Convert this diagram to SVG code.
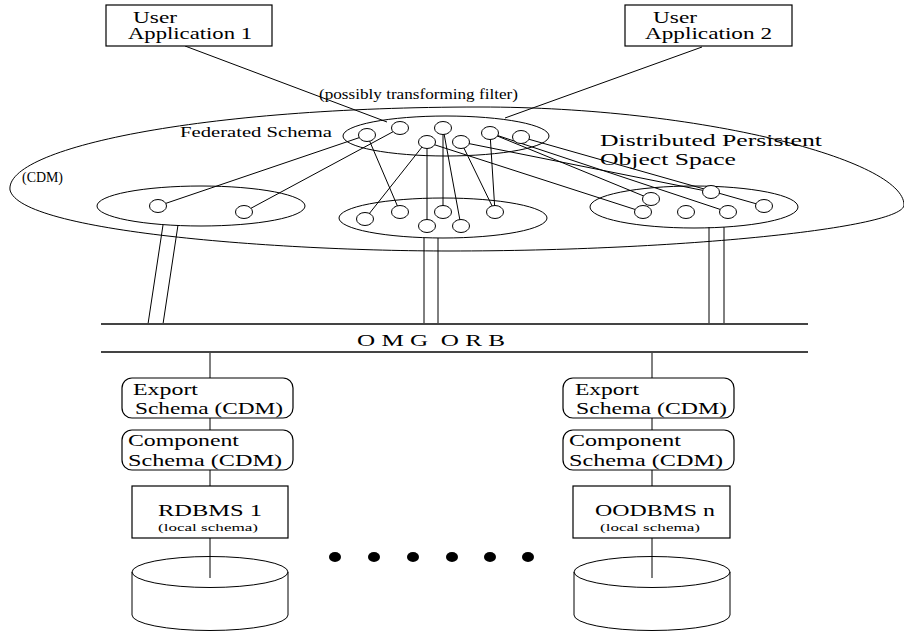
<svg xmlns="http://www.w3.org/2000/svg" width="904" height="634" viewBox="0 0 904 634">
<style>
.t{font-family:"Liberation Serif","DejaVu Serif","Times New Roman",serif;fill:#000}
.ln{stroke:#000;stroke-width:1;fill:none}
.obj{stroke:#000;stroke-width:1;fill:#fff}
.sch{stroke:#000;stroke-width:1;fill:none}
.box{stroke:#000;stroke-width:1.2;fill:#fff}
.orb{stroke:#444;stroke-width:2;fill:none}
</style>
<rect width="904" height="634" fill="#fff"/>

<g id="object-space">
<path class="sch" d="M10,190 C5,148 200,107 480,107 C700,107 904,160 904,205 C904,228 680,251 450,251 C280,251 20,232 10,190 Z"/>
<text class="t" x="22" y="182" font-size="15" textLength="41" lengthAdjust="spacingAndGlyphs">(CDM)</text>
<text class="t" x="600" y="146" font-size="16.5" textLength="222" lengthAdjust="spacingAndGlyphs">Distributed Persistent</text>
<text class="t" x="600" y="165" font-size="16.5" textLength="136" lengthAdjust="spacingAndGlyphs">Object Space</text>
<text class="t" x="319" y="99" font-size="14" textLength="199" lengthAdjust="spacingAndGlyphs">(possibly transforming filter)</text>
</g>

<g id="federated-schema">
<ellipse class="sch" cx="446" cy="136" rx="103" ry="20"/>
<text class="t" x="180" y="137" font-size="15" textLength="152" lengthAdjust="spacingAndGlyphs">Federated Schema</text>
</g>
<g id="left-schema"><ellipse class="sch" cx="201" cy="206" rx="104" ry="20"/></g>
<g id="middle-schema"><ellipse class="sch" cx="443" cy="218" rx="104" ry="20"/></g>
<g id="right-schema"><ellipse class="sch" cx="694" cy="207" rx="104" ry="21"/></g>

<g id="connectors">
<line class="ln" x1="185" y1="46" x2="387" y2="122"/>
<line class="ln" x1="702" y1="47" x2="505" y2="118"/>
<line class="ln" x1="367" y1="135" x2="158" y2="206"/>
<line class="ln" x1="400" y1="128" x2="244" y2="212"/>
<line class="ln" x1="367" y1="135" x2="400" y2="212"/>
<line class="ln" x1="426" y1="142" x2="365" y2="219"/>
<line class="ln" x1="427" y1="142" x2="427" y2="226"/>
<line class="ln" x1="443" y1="128" x2="443" y2="212"/>
<line class="ln" x1="443" y1="128" x2="461" y2="226"/>
<line class="ln" x1="461" y1="142" x2="495" y2="212"/>
<line class="ln" x1="490" y1="133" x2="495" y2="212"/>
<line class="ln" x1="426" y1="142" x2="643" y2="212"/>
<line class="ln" x1="461" y1="142" x2="711" y2="192"/>
<line class="ln" x1="490" y1="133" x2="651" y2="199"/>
<line class="ln" x1="490" y1="133" x2="728" y2="212"/>
<line class="ln" x1="521" y1="137" x2="764" y2="206"/>
<line class="ln" x1="163" y1="225" x2="148" y2="324"/>
<line class="ln" x1="178" y1="225" x2="163" y2="324"/>
<line class="ln" x1="424" y1="238" x2="424" y2="324"/>
<line class="ln" x1="438" y1="238" x2="438" y2="324"/>
<line class="ln" x1="709" y1="227" x2="709" y2="324"/>
<line class="ln" x1="724" y1="227" x2="724" y2="324"/>
<line class="ln" x1="210" y1="352" x2="210" y2="378"/>
<line class="ln" x1="210" y1="418" x2="210" y2="430"/>
<line class="ln" x1="210" y1="470" x2="210" y2="486"/>
<line class="ln" x1="210" y1="538" x2="210" y2="578"/>
<line class="ln" x1="652" y1="352" x2="652" y2="378"/>
<line class="ln" x1="652" y1="418" x2="652" y2="430"/>
<line class="ln" x1="652" y1="470" x2="652" y2="486"/>
<line class="ln" x1="652" y1="538" x2="652" y2="578"/>
</g>

<g id="federated-objects">
<ellipse class="obj" cx="367" cy="135" rx="8.5" ry="6.5"/>
<ellipse class="obj" cx="400" cy="128" rx="8.5" ry="6.5"/>
<ellipse class="obj" cx="443" cy="128" rx="8.5" ry="6.5"/>
<ellipse class="obj" cx="427" cy="142" rx="8.5" ry="6.5"/>
<ellipse class="obj" cx="461" cy="142" rx="8.5" ry="6.5"/>
<ellipse class="obj" cx="490" cy="133" rx="8.5" ry="6.5"/>
<ellipse class="obj" cx="521" cy="137" rx="8.5" ry="6.5"/>
</g>
<g id="left-objects">
<ellipse class="obj" cx="158" cy="206" rx="8.5" ry="6.5"/>
<ellipse class="obj" cx="244" cy="212" rx="8.5" ry="6.5"/>
</g>
<g id="middle-objects">
<ellipse class="obj" cx="365" cy="219" rx="8.5" ry="6.5"/>
<ellipse class="obj" cx="400" cy="212" rx="8.5" ry="6.5"/>
<ellipse class="obj" cx="443" cy="212" rx="8.5" ry="6.5"/>
<ellipse class="obj" cx="427" cy="226" rx="8.5" ry="6.5"/>
<ellipse class="obj" cx="461" cy="226" rx="8.5" ry="6.5"/>
<ellipse class="obj" cx="495" cy="212" rx="8.5" ry="6.5"/>
</g>
<g id="right-objects">
<ellipse class="obj" cx="651" cy="199" rx="8.5" ry="6.5"/>
<ellipse class="obj" cx="711" cy="192" rx="8.5" ry="6.5"/>
<ellipse class="obj" cx="643" cy="212" rx="8.5" ry="6.5"/>
<ellipse class="obj" cx="686" cy="212" rx="8.5" ry="6.5"/>
<ellipse class="obj" cx="728" cy="212" rx="8.5" ry="6.5"/>
<ellipse class="obj" cx="764" cy="206" rx="8.5" ry="6.5"/>
</g>

<g id="user-app-1">
<rect class="box" x="106" y="5" width="166" height="41"/>
<text class="t" x="133" y="23" font-size="16" textLength="44" lengthAdjust="spacingAndGlyphs">User</text>
<text class="t" x="128" y="39" font-size="16" textLength="124" lengthAdjust="spacingAndGlyphs">Application 1</text>
</g>
<g id="user-app-2">
<rect class="box" x="625" y="5" width="167" height="41"/>
<text class="t" x="653" y="23" font-size="16" textLength="44" lengthAdjust="spacingAndGlyphs">User</text>
<text class="t" x="645" y="39" font-size="16" textLength="127" lengthAdjust="spacingAndGlyphs">Application 2</text>
</g>

<g id="orb">
<line class="orb" x1="101" y1="324" x2="808" y2="324"/>
<line class="orb" x1="101" y1="352" x2="808" y2="352"/>
<text class="t" x="357" y="346" font-size="17" textLength="148" lengthAdjust="spacingAndGlyphs" xml:space="preserve">O M G  O R B</text>
</g>

<g id="export-1">
<rect class="box" x="122" y="378" width="171" height="40" rx="10" ry="10"/>
<text class="t" x="133" y="395" font-size="17" textLength="65" lengthAdjust="spacingAndGlyphs">Export</text>
<text class="t" x="135" y="414" font-size="17" textLength="148" lengthAdjust="spacingAndGlyphs">Schema (CDM)</text>
</g>
<g id="component-1">
<rect class="box" x="122" y="430" width="171" height="40" rx="10" ry="10"/>
<text class="t" x="128" y="446" font-size="17" textLength="111" lengthAdjust="spacingAndGlyphs">Component</text>
<text class="t" x="128" y="466" font-size="17" textLength="154" lengthAdjust="spacingAndGlyphs">Schema (CDM)</text>
</g>
<g id="rdbms-1">
<rect class="box" x="132" y="486" width="156" height="52"/>
<text class="t" x="158" y="516" font-size="17" textLength="104" lengthAdjust="spacingAndGlyphs">RDBMS 1</text>
<text class="t" x="158" y="531" font-size="10.5" textLength="100" lengthAdjust="spacingAndGlyphs">(local schema)</text>
</g>
<g id="db-1">
<path class="ln" d="M132,572 V615 A78,15.5 0 0 0 288,615 V572"/>
<ellipse class="sch" cx="210" cy="572" rx="78" ry="15.5"/>
</g>

<g id="export-n">
<rect class="box" x="563" y="378" width="171" height="40" rx="10" ry="10"/>
<text class="t" x="575" y="395" font-size="17" textLength="64" lengthAdjust="spacingAndGlyphs">Export</text>
<text class="t" x="576" y="414" font-size="17" textLength="151" lengthAdjust="spacingAndGlyphs">Schema (CDM)</text>
</g>
<g id="component-n">
<rect class="box" x="563" y="430" width="171" height="40" rx="10" ry="10"/>
<text class="t" x="569" y="446" font-size="17" textLength="112" lengthAdjust="spacingAndGlyphs">Component</text>
<text class="t" x="569" y="466" font-size="17" textLength="154" lengthAdjust="spacingAndGlyphs">Schema (CDM)</text>
</g>
<g id="oodbms-n">
<rect class="box" x="573" y="486" width="157" height="52"/>
<text class="t" x="595" y="516" font-size="17" textLength="120" lengthAdjust="spacingAndGlyphs">OODBMS n</text>
<text class="t" x="600" y="531" font-size="10.5" textLength="100" lengthAdjust="spacingAndGlyphs">(local schema)</text>
</g>
<g id="db-n">
<path class="ln" d="M574,572 V615 A78,15.5 0 0 0 730,615 V572"/>
<ellipse class="sch" cx="652" cy="572" rx="78" ry="15.5"/>
</g>

<g id="ellipsis-dots" fill="#000">
<ellipse cx="335" cy="557" rx="6" ry="5"/>
<ellipse cx="374" cy="557" rx="6" ry="5"/>
<ellipse cx="413" cy="557" rx="6" ry="5"/>
<ellipse cx="452" cy="557" rx="6" ry="5"/>
<ellipse cx="490" cy="557" rx="6" ry="5"/>
<ellipse cx="528" cy="557" rx="6" ry="5"/>
</g>
</svg>
